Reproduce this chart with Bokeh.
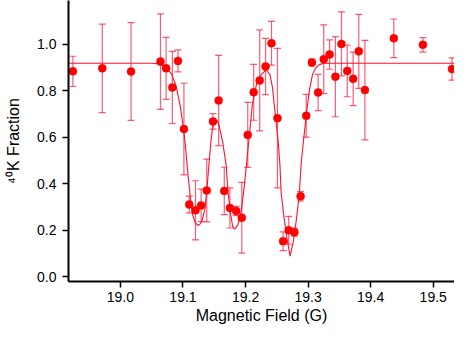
from bokeh.plotting import figure
from bokeh.models import ColumnDataSource, Whisker, TeeHead, FixedTicker, PrintfTickFormatter, Range1d
from bokeh.embed import file_html
from bokeh.resources import INLINE

# measured data points: field (G), 40K fraction, error
field = [18.924, 18.971, 19.017, 19.064, 19.073, 19.083, 19.092, 19.1015, 19.110, 19.120,
         19.129, 19.138, 19.148, 19.157, 19.166, 19.175, 19.185, 19.194, 19.2035, 19.213,
         19.2226, 19.232, 19.2415, 19.251, 19.260, 19.269, 19.278, 19.288, 19.297, 19.306,
         19.316, 19.325, 19.3343, 19.3436, 19.3533, 19.3626, 19.372, 19.381, 19.3908, 19.437,
         19.4835, 19.530]
fraction = [0.883, 0.896, 0.882, 0.925, 0.896, 0.814, 0.928, 0.635, 0.311, 0.286,
            0.307, 0.371, 0.668, 0.758, 0.369, 0.296, 0.283, 0.254, 0.610, 0.793,
            0.844, 0.904, 1.004, 0.682, 0.153, 0.200, 0.192, 0.346, 0.692, 0.921,
            0.792, 0.935, 0.955, 0.860, 1.001, 0.885, 0.851, 0.969, 0.8025, 1.025,
            0.997, 0.893]
error = [0.065, 0.19, 0.21, 0.205, 0.133, 0.155, 0.047, 0.197, 0.036, 0.127,
         0.07, 0.135, 0.033, 0.194, 0.102, 0.086, 0.02, 0.152, 0.14, 0.12,
         0.217, 0.121, 0.094, 0.30, 0.04, 0.06, 0.017, 0.02, 0.092, 0.015,
         0.078, 0.148, 0.063, 0.172, 0.1375, 0.111, 0.115, 0.159, 0.214, 0.083,
         0.031, 0.048]

# fit curve
fit_field = [18.917, 19.050, 19.060, 19.070, 19.0815, 19.089, 19.0954, 19.101, 19.1046, 19.107,
             19.111, 19.115, 19.119, 19.1235, 19.127, 19.130, 19.135, 19.139, 19.142, 19.145,
             19.148, 19.152, 19.155, 19.158, 19.1635, 19.169, 19.172, 19.1764, 19.1795, 19.1826,
             19.1877, 19.193, 19.198, 19.202, 19.206, 19.211, 19.2175, 19.225, 19.233, 19.239,
             19.243, 19.2457, 19.249, 19.2523, 19.255, 19.2569, 19.261, 19.266, 19.2712, 19.2765,
             19.2815, 19.2857, 19.289, 19.294, 19.298, 19.302, 19.307, 19.312, 19.318, 19.325,
             19.536]
fit_fraction = [0.918, 0.918, 0.916, 0.905, 0.873, 0.820, 0.7375, 0.633, 0.543, 0.467,
                0.36, 0.272, 0.235, 0.221, 0.226, 0.2375, 0.29, 0.40, 0.50, 0.59,
                0.655, 0.675, 0.67, 0.647, 0.578, 0.48, 0.3625, 0.265, 0.215, 0.205,
                0.223, 0.279, 0.39, 0.497, 0.605, 0.744, 0.8275, 0.869, 0.89, 0.869,
                0.814, 0.744, 0.661, 0.578, 0.48, 0.3625, 0.265, 0.168, 0.089, 0.154,
                0.251, 0.348, 0.49, 0.619, 0.7165, 0.80, 0.869, 0.897, 0.912, 0.918,
                0.918]

x_ticks = [19.0, 19.1, 19.2, 19.3, 19.4, 19.5]
y_ticks = [0.0, 0.2, 0.4, 0.6, 0.8, 1.0]

src = ColumnDataSource(data=dict(
    x=field, y=fraction,
    upper=[f + e for f, e in zip(fraction, error)],
    lower=[f - e for f, e in zip(fraction, error)],
))

p = figure(width=454, height=326, output_backend="svg", toolbar_location=None,
           x_range=Range1d(18.917, 19.534), y_range=Range1d(-0.02, 1.1875),
           min_border_left=68, min_border_right=0, min_border_top=0, min_border_bottom=45)
p.outline_line_color = None
p.xgrid.visible = False
p.ygrid.visible = False

p.line(fit_field, fit_fraction, line_color="#ff1030", line_width=1.1)

err_color = "#f5203f"
w = Whisker(base="x", upper="upper", lower="lower", source=src, dimension="height",
            line_color=err_color, line_alpha=0.72, line_width=1.2,
            upper_head=TeeHead(size=7, line_color=err_color, line_alpha=0.72, line_width=1.2),
            lower_head=TeeHead(size=7, line_color=err_color, line_alpha=0.72, line_width=1.2))
p.add_layout(w)

p.scatter("x", "y", source=src, size=8, fill_color="#ff0000", line_color="#ff0000", line_width=0.5)

for ax in (p.xaxis[0], p.yaxis[0]):
    ax.axis_line_width = 2
    ax.axis_line_color = "black"
    ax.major_tick_line_width = 1.5
    ax.major_tick_line_color = "black"
    ax.major_tick_out = 6
    ax.major_tick_in = 0
    ax.minor_tick_line_color = None
    ax.major_label_text_font = "Liberation Sans"
    ax.major_label_text_font_size = "14px"
    ax.major_label_text_color = "black"
    ax.axis_label_text_font = "Liberation Sans"
    ax.axis_label_text_font_size = "16px"
    ax.axis_label_text_font_style = "normal"
    ax.axis_label_text_color = "black"

p.xaxis[0].ticker = FixedTicker(ticks=x_ticks)
p.yaxis[0].ticker = FixedTicker(ticks=y_ticks)
p.xaxis[0].formatter = PrintfTickFormatter(format="%.1f")
p.yaxis[0].formatter = PrintfTickFormatter(format="%.1f")
p.xaxis[0].axis_label = "Magnetic Field (G)"
p.yaxis[0].axis_label = "\u2074\u2070K Fraction"
p.xaxis[0].major_label_standoff = 4
p.xaxis[0].axis_label_standoff = 2
p.yaxis[0].major_label_standoff = 6
p.yaxis[0].axis_label_standoff = 12

open("out.html", "w").write(file_html(p, INLINE))
